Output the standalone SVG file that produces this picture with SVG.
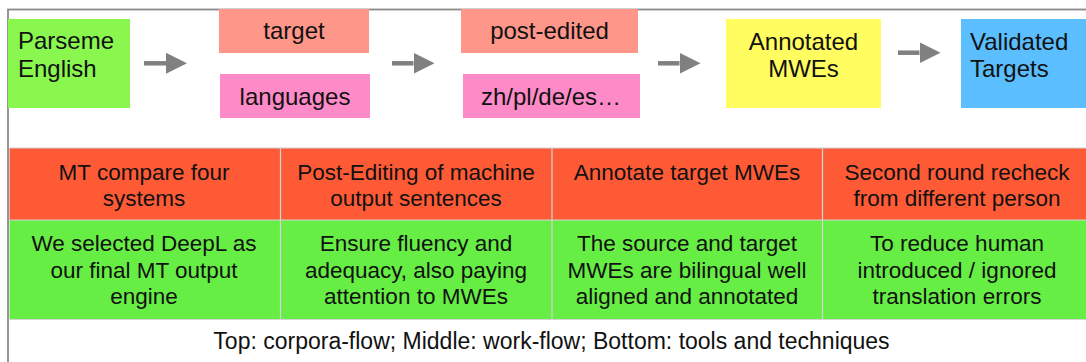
<svg xmlns="http://www.w3.org/2000/svg" width="1086" height="362" viewBox="0 0 1086 362">
<defs>
<style>
text{font-family:"Liberation Sans",Arial,Helvetica,sans-serif;fill:#111;}
.big{font-size:24px;}
.mid{font-size:22.5px;text-anchor:middle;}
.cap{font-size:23px;text-anchor:middle;}
.c{text-anchor:middle;}
.arrow{stroke:#808080;stroke-width:4.5;fill:none;marker-end:url(#head);}
.div{stroke:#d4d4d4;stroke-width:1.2;}
</style>
<marker id="head" markerUnits="userSpaceOnUse" markerWidth="22" markerHeight="22" refX="0" refY="10.5" orient="auto" viewBox="0 0 22 22">
<path d="M0,0 L21,10.5 L0,21 Z" fill="#808080"/>
</marker>
</defs>
<rect width="1086" height="362" fill="#fff"/>
<rect id="frame" x="8" y="9.5" width="1100" height="380" fill="none" stroke="#8a8a8a" stroke-width="1.8"/>

<g id="parseme">
<rect x="8" y="19" width="122" height="89" fill="#8AF74F"/>
<text class="big" x="18" y="49">Parseme</text>
<text class="big" x="18" y="77">English</text>
</g>
<g id="target">
<rect x="219" y="9" width="150" height="44" fill="#FF968A"/>
<text class="big c" x="294" y="39">target</text>
</g>
<g id="languages">
<rect x="220" y="74" width="150" height="44" fill="#FF8AC8"/>
<text class="big c" x="295" y="105">languages</text>
</g>
<g id="post-edited">
<rect x="461" y="9" width="177" height="44" fill="#FF968A"/>
<text class="big c" x="549.5" y="39">post-edited</text>
</g>
<g id="zh">
<rect x="463" y="74" width="177" height="44" fill="#FF8AC8"/>
<text class="big c" x="551" y="105">zh/pl/de/es…</text>
</g>
<g id="annotated">
<rect x="726" y="19" width="155" height="89" fill="#FFFD5F"/>
<text class="big c" x="803.5" y="50">Annotated</text>
<text class="big c" x="803.5" y="77">MWEs</text>
</g>
<g id="validated">
<rect x="961" y="19" width="130" height="89" fill="#5ABEFF"/>
<text class="big" x="970" y="50">Validated</text>
<text class="big" x="970" y="77">Targets</text>
</g>

<g id="connectors">
<line class="arrow" x1="144" y1="63.3" x2="166" y2="63.3"/>
<line class="arrow" x1="392" y1="63.3" x2="413.5" y2="63.3"/>
<line class="arrow" x1="658" y1="63.3" x2="679.5" y2="63.3"/>
<line class="arrow" x1="898" y1="52.7" x2="919.5" y2="52.7"/>
</g>

<g id="workflow">
<rect x="9.5" y="148" width="1080" height="72" fill="#FF5A36"/>
<rect x="9.5" y="220" width="1080" height="99" fill="#66EE44"/>
<line class="div" x1="9.5" y1="148" x2="1086" y2="148"/>
<line class="div" x1="9.5" y1="220" x2="1086" y2="220"/>
<line class="div" x1="9.5" y1="319.5" x2="1086" y2="319.5"/>
<line class="div" x1="280.5" y1="147" x2="280.5" y2="320"/>
<line class="div" x1="552" y1="147" x2="552" y2="320"/>
<line class="div" x1="822.5" y1="147" x2="822.5" y2="320"/>
</g>
<g id="cell-mt">
<text class="mid" x="144" y="179.5">MT compare four</text>
<text class="mid" x="144" y="205.5">systems</text>
</g>
<g id="cell-postedit">
<text class="mid" x="416" y="179.5">Post-Editing of machine</text>
<text class="mid" x="416" y="205.5">output sentences</text>
</g>
<g id="cell-annotate">
<text class="mid" x="687" y="179.5">Annotate target MWEs</text>
</g>
<g id="cell-second">
<text class="mid" x="957" y="179.5">Second round recheck</text>
<text class="mid" x="957" y="205.5">from different person</text>
</g>
<g id="cell-deepl">
<text class="mid" x="144" y="251">We selected DeepL as</text>
<text class="mid" x="144" y="277.5">our final MT output</text>
<text class="mid" x="144" y="304">engine</text>
</g>
<g id="cell-fluency">
<text class="mid" x="416" y="251">Ensure fluency and</text>
<text class="mid" x="416" y="277.5">adequacy, also paying</text>
<text class="mid" x="416" y="304">attention to MWEs</text>
</g>
<g id="cell-source">
<text class="mid" x="687" y="251">The source and target</text>
<text class="mid" x="687" y="277.5">MWEs are bilingual well</text>
<text class="mid" x="687" y="304">aligned and annotated</text>
</g>
<g id="cell-reduce">
<text class="mid" x="957" y="251">To reduce human</text>
<text class="mid" x="957" y="277.5">introduced / ignored</text>
<text class="mid" x="957" y="304">translation errors</text>
</g>

<text id="caption" class="cap" x="551.5" y="349">Top: corpora-flow; Middle: work-flow; Bottom: tools and techniques</text>
</svg>
